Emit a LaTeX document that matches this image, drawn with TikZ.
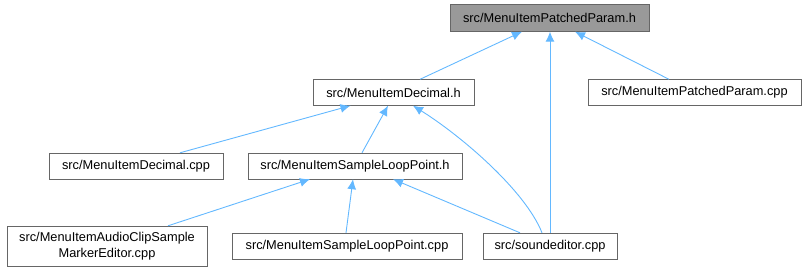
\documentclass[tikz,border=0pt]{standalone}
\usepackage{fontspec}
\setmainfont{Liberation Sans}
\usetikzlibrary{arrows.meta}

\definecolor{edgeblue}{HTML}{63B8FF}
\definecolor{boxline}{HTML}{666666}
\definecolor{boxgray}{HTML}{999999}

\tikzset{
    file/.style={draw=boxline, fill=white, font=\fontsize{12.8}{16}\selectfont,
                 minimum height=26pt, inner sep=0pt, align=center},
    dep/.style={draw=edgeblue, line width=0.9pt, -{Latex[length=10pt,width=9pt]}}
}

\begin{document}
\begin{tikzpicture}[x=1pt, y=-1pt]
            \useasboundingbox (0,0) rectangle (806,272);

            \node[file, fill=boxgray, minimum width=199pt, minimum height=27pt] (top) at (549.5,18) {src/MenuItemPatchedParam.h};

            \node[file, minimum width=161pt] (dech) at (393.5,92.5) {src/MenuItemDecimal.h};
            \node[file, minimum width=213pt] (ppcpp) at (694.5,92.5) {src/MenuItemPatchedParam.cpp};

            \node[file, minimum width=174pt] (deccpp) at (136,166) {src/MenuItemDecimal.cpp};
            \node[file, minimum width=214pt] (slph) at (355,166) {src/MenuItemSampleLoopPoint.h};

            \node[file, minimum width=200pt, minimum height=40pt] (audio) at (107,246) {src/MenuItemAudioClipSample\\MarkerEditor.cpp};
            \node[file, minimum width=230pt] (slpcpp) at (347,246) {src/MenuItemSampleLoopPoint.cpp};
            \node[file, minimum width=134pt] (sound) at (550,246) {src/soundeditor.cpp};

            % includes of the header at the top
            \draw[dep] ([xshift=26.5pt]dech.north) -- ([xshift=-27.5pt]top.south);
            \draw[dep] (sound.north) -- ([xshift=0.5pt]top.south);
            \draw[dep] ([xshift=-25.5pt]ppcpp.north) -- ([xshift=25.5pt]top.south);

            % includes of MenuItemDecimal.h
            \draw[dep] ([xshift=44pt]deccpp.north) -- ([xshift=-43pt]dech.south);
            \draw[dep] ([xshift=7pt]slph.north) -- ([xshift=-5.5pt]dech.south);
            \draw[dep] ([xshift=-8pt]sound.north) .. controls (525,190) and (460,135) .. ([xshift=19.5pt]dech.south);

            % includes of MenuItemSampleLoopPoint.h
            \draw[dep] ([xshift=61pt]audio.north) -- ([xshift=-45pt]slph.south);
            \draw[dep] ([xshift=-1pt]slpcpp.north) -- ([xshift=-2pt]slph.south);
            \draw[dep] ([xshift=-30pt]sound.north) -- ([xshift=38pt]slph.south);
        \end{tikzpicture}
\end{document}
